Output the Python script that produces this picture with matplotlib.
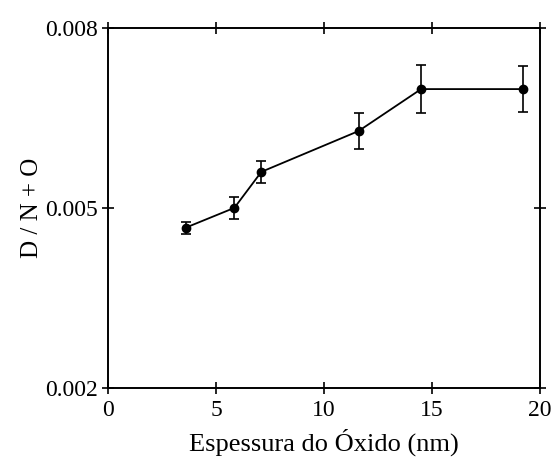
import matplotlib
matplotlib.use("Agg")
import matplotlib.pyplot as plt

thickness = [3.6, 5.85, 7.1, 11.6, 14.5, 19.2]
ratio = [0.00467, 0.00500, 0.00560, 0.00628, 0.00698, 0.00698]
err = [0.00010, 0.00018, 0.00018, 0.00030, 0.00040, 0.00038]

xticks = [0, 5, 10, 15, 20]
yticks = [0.002, 0.005, 0.008]
ytick_labels = ["0.002", "0.005", "0.008"]

plt.rcParams['font.family'] = ['Liberation Serif', 'DejaVu Serif']

fig = plt.figure(figsize=(5.6, 4.65), dpi=100)
ax = fig.add_axes([0.193, 0.166, 0.771, 0.774])

ax.errorbar(thickness, ratio, yerr=err, color='black', marker='o', markersize=6,
            linewidth=1.3, elinewidth=1.2, capsize=3.5, capthick=1.2)

ax.set_xlim(0, 20)
ax.set_ylim(0.002, 0.008)
ax.set_xticks(xticks)
ax.set_yticks(yticks)
ax.set_yticklabels(ytick_labels)
ax.tick_params(direction='inout', length=8, width=1.2, labelsize=17,
               top=True, right=True, pad=3)
ax.tick_params(axis='x', pad=5)
for s in ax.spines.values():
    s.set_linewidth(1.4)

ax.set_xlabel("Espessura do Óxido (nm)", fontsize=19, labelpad=5)
ax.set_ylabel("D / N + O", fontsize=18, labelpad=2)

fig.savefig("out.png", dpi=100)
